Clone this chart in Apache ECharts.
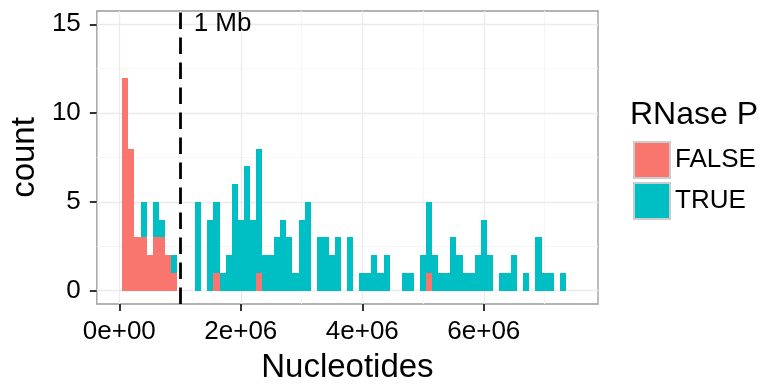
<!DOCTYPE html>
<html>
<head>
<meta charset="utf-8">
<script src="https://cdn.jsdelivr.net/npm/echarts@6/dist/echarts.min.js"></script>
<style>
  html, body { margin: 0; padding: 0; background: #fff; }
  #main { width: 768px; height: 389px; }
</style>
</head>
<body>
<div id="main"></div>
<script>
// histogram bins: width 1e5 nt, centred on multiples of 1e5
var binWidth = 1e5;
var falseCounts = [
  12, 8, 3, 3, 2, 3, 3, 2, 1, 0,
  0, 0, 0, 0, 0, 1, 0, 0, 0, 0,
  0, 0, 1, 0, 0, 0, 0, 0, 0, 0,
  0, 0, 0, 0, 0, 0, 0, 0, 0, 0,
  0, 0, 0, 0, 0, 0, 0, 0, 0, 0,
  1, 0, 0, 0, 0, 0, 0, 0, 0, 0,
  0, 0, 0, 0, 0, 0, 0, 0, 0, 0,
  0, 0, 0
];
var trueCounts = [
  0, 0, 0, 2, 0, 2, 1, 0, 1, 0,
  0, 0, 5, 0, 4, 4, 1, 2, 6, 4,
  7, 4, 7, 2, 2, 3, 4, 3, 1, 4,
  5, 0, 3, 3, 2, 3, 0, 3, 0, 1,
  1, 2, 1, 2, 0, 0, 1, 1, 0, 2,
  4, 2, 1, 1, 3, 2, 1, 1, 2, 4,
  2, 0, 1, 1, 2, 0, 1, 0, 3, 1,
  1, 0, 1
];
var binCenters = falseCounts.map(function (_, i) { return (i + 1) * binWidth; });

var xTickValues = [0, 2e6, 4e6, 6e6];
var xTickLabels = ["0e+00", "2e+06", "4e+06", "6e+06"];
var xMinorGrid = [1e6, 3e6, 5e6, 7e6];
var yTickValues = [0, 5, 10, 15];
var yMinorGrid = [2.5, 7.5, 12.5];
var xLimits = [-0.37e6, 7.88e6];
var yLimits = [-0.75, 15.75];
var cutoff = 1e6;
var cutoffLabel = "1 Mb";
var cutoffLabelPos = [1.7e6, 15];

var FONT = "Liberation Sans";
var RED = "#F8766D", TEAL = "#00BFC4";

function rects(lower, upper) {
  var out = [];
  for (var i = 0; i < binCenters.length; i++) {
    if (upper[i] > 0) {
      var y0 = lower ? lower[i] : 0;
      out.push([binCenters[i] - binWidth / 2, binCenters[i] + binWidth / 2, y0, y0 + upper[i]]);
    }
  }
  return out;
}

function renderBar(params, api) {
  var p0 = api.coord([api.value(0), api.value(2)]);
  var p1 = api.coord([api.value(1), api.value(3)]);
  var x0 = Math.round(p0[0]), x1 = Math.round(p1[0]);
  var yb = Math.round(p0[1]), yt = Math.round(p1[1]);
  return {
    type: "rect",
    shape: { x: x0, y: yt, width: x1 - x0, height: yb - yt },
    style: { fill: api.visual("color") }
  };
}

function renderText(params, api) {
  var p = api.coord([api.value(0), api.value(1)]);
  return {
    type: "text",
    x: p[0], y: p[1],
    style: {
      text: cutoffLabel, fill: "#000",
      font: "26px '" + FONT + "'",
      align: "center", verticalAlign: "middle"
    }
  };
}

function gridLines(vals, axis, color, width) {
  return vals.map(function (v) {
    var o = { lineStyle: { color: color, width: width, type: "solid" } };
    o[axis] = v;
    return o;
  });
}

var chart = echarts.init(document.getElementById("main"), null, { renderer: "canvas" });
var option = {
  animation: false,
  backgroundColor: "#fff",
  textStyle: { fontFamily: FONT },
  grid: {
    left: 95.5, right: 170, top: 11, bottom: 81.7,
    show: true, borderColor: "#9a9a9a", borderWidth: 1.3, backgroundColor: "#fff"
  },
  title: {
    text: "RNase P",
    left: 625, top: 94,
    textStyle: { fontFamily: FONT, fontSize: 32, fontWeight: "normal", color: "#000" }
  },
  legend: {
    orient: "vertical",
    left: 628, top: 136,
    itemWidth: 36, itemHeight: 36, itemGap: 3,
    icon: "rect",
    itemStyle: { borderColor: "#cccccc", borderWidth: 2 },
    textStyle: { fontFamily: FONT, fontSize: 26, color: "#000" },
    data: ["FALSE", "TRUE"]
  },
  xAxis: {
    type: "value",
    min: xLimits[0], max: xLimits[1],
    splitNumber: 4,
    name: "Nucleotides",
    nameLocation: "middle",
    nameGap: 47,
    nameTextStyle: { fontFamily: FONT, fontSize: 33, color: "#000" },
    axisLine: { show: false, onZero: false },
    axisTick: { show: true, length: 7, customValues: xTickValues, lineStyle: { color: "#333", width: 2 } },
    axisLabel: {
      customValues: xTickValues,
      margin: 15,
      fontFamily: FONT, fontSize: 26, color: "#000",
      formatter: function (v) { return xTickLabels[xTickValues.indexOf(v)]; }
    },
    splitLine: { show: false }
  },
  yAxis: {
    type: "value",
    min: yLimits[0], max: yLimits[1],
    splitNumber: 3,
    name: "count",
    nameLocation: "middle",
    nameGap: 53,
    nameTextStyle: { fontFamily: FONT, fontSize: 33, color: "#000" },
    axisLine: { show: false, onZero: false },
    axisTick: { show: true, length: 7, customValues: yTickValues, lineStyle: { color: "#333", width: 2 } },
    axisLabel: {
      customValues: yTickValues,
      margin: 16,
      fontFamily: FONT, fontSize: 26, color: "#000"
    },
    splitLine: { show: false }
  },
  series: [
    {
      // panel grid
      type: "line",
      data: [],
      z: 1,
      silent: true,
      markLine: {
        z: 1,
        silent: true, symbol: "none", label: { show: false }, animation: false,
        data: []
          .concat(gridLines(xMinorGrid, "xAxis", "#f6f6f6", 1))
          .concat(gridLines(yMinorGrid, "yAxis", "#f6f6f6", 1))
          .concat(gridLines(xTickValues, "xAxis", "#ebebeb", 1.3))
          .concat(gridLines(yTickValues, "yAxis", "#ebebeb", 1.3))
      }
    },
    {
      name: "FALSE",
      type: "custom",
      z: 2,
      itemStyle: { color: RED },
      renderItem: renderBar,
      encode: { x: [0, 1], y: [2, 3] },
      data: rects(null, falseCounts)
    },
    {
      name: "TRUE",
      type: "custom",
      z: 2,
      itemStyle: { color: TEAL },
      renderItem: renderBar,
      encode: { x: [0, 1], y: [2, 3] },
      data: rects(falseCounts, trueCounts)
    },
    {
      type: "custom",
      z: 6,
      silent: true,
      renderItem: renderText,
      data: [cutoffLabelPos],
      markLine: {
        z: 4,
        silent: true, symbol: "none", label: { show: false }, animation: false,
        data: [{ xAxis: cutoff, lineStyle: { color: "#000", width: 2.8, type: [16.5, 8.5] } }]
      }
    }
  ]
};
chart.setOption(option);
</script>
</body>
</html>
